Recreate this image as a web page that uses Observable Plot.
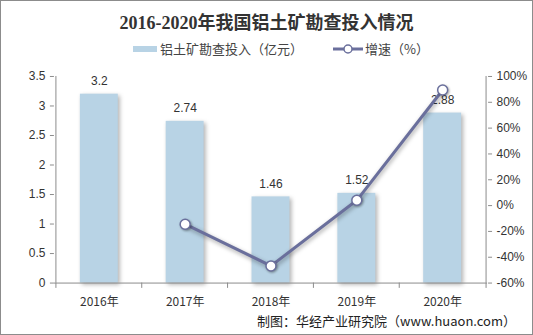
<!DOCTYPE html>
<html><head><meta charset="utf-8">
<script src="https://cdn.jsdelivr.net/npm/d3@7"></script>
<script src="https://cdn.jsdelivr.net/npm/@observablehq/plot@0.6"></script>
<style>
body{margin:0;background:#fff;font-family:"Noto Sans CJK SC",Arial,sans-serif;}
#wrap{position:relative;width:531px;height:333px;border:1px solid #8c8c8c;overflow:hidden;background:#fff;}
#title{position:absolute;top:7px;left:0;width:531px;text-align:center;font-family:"Liberation Serif","Noto Sans CJK SC",serif;font-weight:bold;font-size:18px;color:#333;}
#legend{position:absolute;top:38px;left:0;width:531px;font-size:13px;color:#444;}
.lg{position:absolute;top:0;white-space:nowrap;display:flex;align-items:center;}
#chart{position:absolute;top:60px;left:-1px;}
#caption{position:absolute;top:310px;right:16px;font-size:13px;color:#222;}
</style></head>
<body><div id="wrap">
<div id="title">2016-2020年我国铝土矿勘查投入情况</div>
<div id="legend">
 <div class="lg" style="left:132px"><span style="display:inline-block;width:24px;height:6px;background:#b8d3e5;margin-right:3px"></span>铝土矿勘查投入（亿元）</div>
 <div class="lg" style="left:332px"><svg width="30" height="10"><line x1="0" y1="5" x2="30" y2="5" stroke="#6a6f9c" stroke-width="3"/><circle cx="15" cy="5" r="4" fill="#fff" stroke="#6a6f9c" stroke-width="1.5"/></svg><span style="margin-left:2px">增速（%）</span></div>
</div>
<div id="chart"></div>
<div id="caption">制图：华经产业研究院（www.huaon.com）</div>
</div>
<script>
const years = ["2016年","2017年","2018年","2019年","2020年"];
const invest = [3.2, 2.74, 1.46, 1.52, 2.88];
const growth = [null, -14.4, -46.7, 4.1, 89.5];
const leftTicks = [0,0.5,1,1.5,2,2.5,3,3.5];
const rightTicks = [-60,-40,-20,0,20,40,60,80,100];

const toLeft = p => (p + 60) / 160 * 3.5;
const fromLeft = v => v / 3.5 * 160 - 60;

const bars = years.map((y,i)=>({year:y, v:invest[i]}));
const pts = years.map((y,i)=>({year:y, g:growth[i]})).filter(d=>d.g!==null);
const blue = "#b8d3e5", line = "#6a6f9c";

const chart = Plot.plot({
  width: 533, height: 250,
  marginLeft: 54, marginRight: 45, marginTop: 15, marginBottom: 28,
  style: {fontFamily: "Arial, 'Liberation Sans', sans-serif", fontSize: "12px", color: "#333", background: "transparent"},
  x: {domain: years, paddingInner: 0.56, paddingOuter: 0.28, label: null},
  y: {domain: [0, 3.5], label: null},
  marks: [
    Plot.barY(bars, {x:"year", y:"v", fill: blue}),
    Plot.text(bars, {x:"year", y:"v", text: d=>String(d.v), dy:-13, fill:"#333", fontSize:12}),
    Plot.ruleX(years, {x: d=>d, dx: -43.5, y1: 0, y2: -0.09, stroke:"#8c8c8c"}),
    Plot.ruleX([years[4]], {x: d=>d, dx: 43.5, y1: 0, y2: -0.09, stroke:"#8c8c8c"}),
    Plot.axisX({tickSize: 0, tickPadding: 14, fill:"#333", fontFamily:"'Noto Sans CJK SC', sans-serif"}),
    Plot.ruleY([0], {stroke:"#8c8c8c"}),
    Plot.axisY(leftTicks, {anchor:"left", tickSize:4, tickPadding:5, stroke:"#8c8c8c", tickFormat: d=>String(d)}),
    Plot.ruleX([0], {x: ()=>years[0], dx:-43.5, y1:0, y2:3.5, stroke:"#8c8c8c"}),
    Plot.axisY(rightTicks.map(toLeft), {anchor:"right", tickSize:4, tickPadding:5, stroke:"#8c8c8c", tickFormat: v=>Math.round(fromLeft(v))+"%"}),
    Plot.ruleX([0], {x: ()=>years[4], dx:43.5, y1:0, y2:3.5, stroke:"#8c8c8c"}),
    Plot.line(pts, {x:"year", y: d=>toLeft(d.g), stroke: line, strokeWidth: 3}),
    Plot.dot(pts, {x:"year", y: d=>toLeft(d.g), r: 5, fill:"#fff", stroke: line, strokeWidth: 1.5})
  ]
});
const s = d3.select(chart);
s.selectAll('g[aria-label="bar"] rect').style("filter","drop-shadow(2px 2px 2px rgba(0,0,0,0.3))");
s.selectAll('g[aria-label="line"] path').style("filter","drop-shadow(1px 2px 2px rgba(0,0,0,0.35))");
s.selectAll('g[aria-label="dot"] circle').style("filter","drop-shadow(1px 1px 1px rgba(0,0,0,0.35))");
document.getElementById("chart").appendChild(chart);
</script>
</body></html>
